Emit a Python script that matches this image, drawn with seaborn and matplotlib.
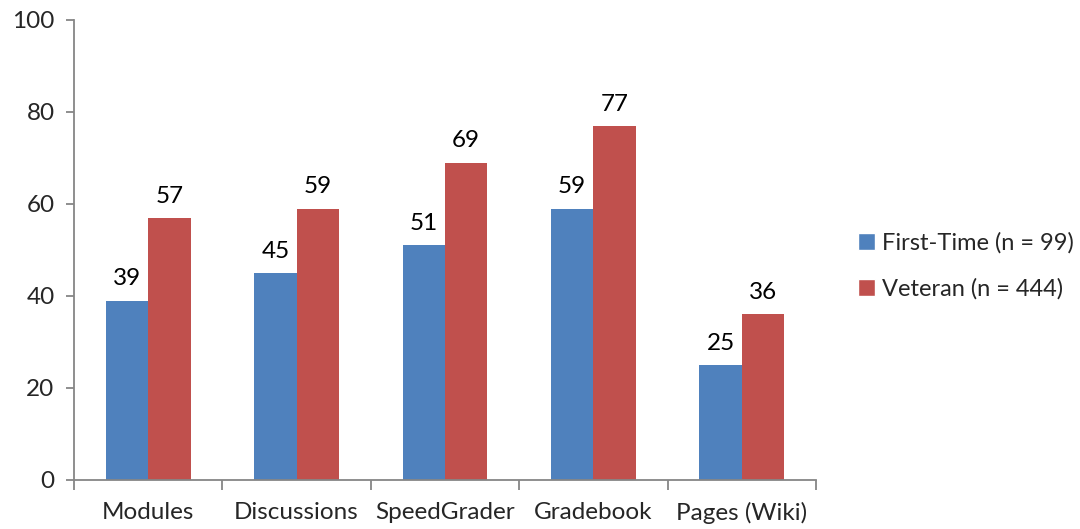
import matplotlib
matplotlib.use("Agg")
import matplotlib.pyplot as plt
import seaborn as sns
import pandas as pd
import numpy as np
from matplotlib.patches import Patch

categories = ["Modules", "Discussions", "SpeedGrader", "Gradebook", "Pages (Wiki)"]
first_time = [39, 45, 51, 59, 25]
veteran = [57, 59, 69, 77, 36]
series = ["First-Time (n = 99)", "Veteran (n = 444)"]
colors = ["#4F81BD", "#C0504D"]

df = pd.DataFrame({
    "cat": categories * 2,
    "val": first_time + veteran,
    "series": [series[0]] * len(categories) + [series[1]] * len(categories),
})

sns.set_style("white")
plt.rcParams["font.family"] = ["Lato", "DejaVu Sans"]
FS = 17.5

fig = plt.figure(figsize=(10.8, 5.29), dpi=100)
ax = fig.add_axes([74/1080, 1 - 480/529, (816-74)/1080, (480-20)/529])

sns.barplot(data=df, x="cat", y="val", hue="series", palette=colors,
            width=2/3.5, ax=ax, legend=False, saturation=1, order=categories,
            hue_order=series, linewidth=0)

for cont in ax.containers:
    ax.bar_label(cont, labels=[f"{int(v)}" for v in cont.datavalues],
                 padding=8, fontsize=FS, color="black")

ax.set_ylim(0, 100)
ax.set_xlim(-0.5, len(categories) - 0.5)
ax.set_yticks(np.arange(0, 101, 20))
ax.set_xlabel("")
ax.set_ylabel("")

spine_c = "#868686"
for s in ["top", "right"]:
    ax.spines[s].set_visible(False)
for s in ["left", "bottom"]:
    ax.spines[s].set_color(spine_c)
    ax.spines[s].set_linewidth(1.3)

ax.tick_params(axis="y", which="major", length=6, width=1.3, color=spine_c,
               labelsize=FS, pad=8, left=True)
ax.tick_params(axis="x", which="major", length=0, labelsize=FS, pad=16)
ax.set_xticks(np.arange(-0.5, len(categories), 1.0), minor=True)
ax.tick_params(axis="x", which="minor", length=7, width=1.3, color=spine_c, bottom=True)

handles = [Patch(facecolor=c, label=l) for c, l in zip(colors, series)]
fig.legend(handles=handles, loc="center left", bbox_to_anchor=(0.786, 0.497),
           frameon=False, fontsize=17, handlelength=0.7, handleheight=0.7,
           handletextpad=0.3, labelspacing=1.05, borderaxespad=0)

fig.savefig("out.png", dpi=100)
